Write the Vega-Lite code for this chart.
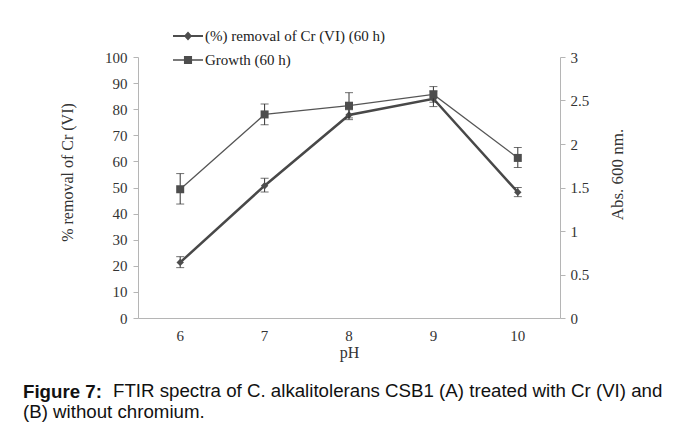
{
  "$schema": "https://vega.github.io/schema/vega-lite/v6.json",
  "padding": {"left": 23, "top": 20, "right": 5, "bottom": 5},
  "background": "white",
  "title": {
    "text": "FTIR spectra of C. alkalitolerans CSB1 (A) treated with Cr (VI) and",
    "orient": "bottom", "anchor": "start", "frame": "group",
    "font": "Liberation Sans", "fontSize": 18.7, "fontWeight": "normal", "color": "#111",
    "dx": -25, "dy": -39, "offset": 0
  },
  "config": {
    "view": {"stroke": null},
    "axis": {
      "labelFont": "Liberation Serif", "labelFontSize": 15, "labelColor": "#333",
      "titleFont": "Liberation Serif", "titleFontSize": 16, "titleFontWeight": "normal", "titleColor": "#333",
      "domainColor": "#b5b5b5", "tickColor": "#b5b5b5", "grid": false
    }
  },
  "datasets": {
    "pts": [
      {"pH": "6", "series": "(%) removal of Cr (VI) (60 h)", "removal": 21.3, "rlo": 19.3, "rhi": 23.5},
      {"pH": "7", "series": "(%) removal of Cr (VI) (60 h)", "removal": 50.7, "rlo": 48.3, "rhi": 53.5},
      {"pH": "8", "series": "(%) removal of Cr (VI) (60 h)", "removal": 77.8, "rlo": 76.0, "rhi": 79.8},
      {"pH": "9", "series": "(%) removal of Cr (VI) (60 h)", "removal": 84.0, "rlo": 81.0, "rhi": 87.0},
      {"pH": "10", "series": "(%) removal of Cr (VI) (60 h)", "removal": 48.2, "rlo": 46.5, "rhi": 50.0},
      {"pH": "6", "series": "Growth (60 h)", "abs": 1.48, "alo": 1.31, "ahi": 1.66},
      {"pH": "7", "series": "Growth (60 h)", "abs": 2.34, "alo": 2.22, "ahi": 2.46},
      {"pH": "8", "series": "Growth (60 h)", "abs": 2.44, "alo": 2.30, "ahi": 2.59},
      {"pH": "9", "series": "Growth (60 h)", "abs": 2.57, "alo": 2.48, "ahi": 2.66},
      {"pH": "10", "series": "Growth (60 h)", "abs": 1.84, "alo": 1.73, "ahi": 1.96}
    ]
  },
  "vconcat": [
    {
      "width": 422,
      "height": 261,
      "title": {
        "text": "Figure 7:",
        "subtitle": "(B) without chromium.",
        "orient": "bottom", "anchor": "start", "frame": "group",
        "font": "Liberation Sans", "fontSize": 18.7, "fontWeight": "bold", "color": "#111",
        "subtitleFont": "Liberation Sans", "subtitleFontSize": 18.7, "subtitleColor": "#111", "subtitlePadding": 1,
        "dx": -115, "offset": 23
      },
      "data": {"name": "pts"},
      "encoding": {
        "x": {
          "field": "pH", "type": "ordinal", "sort": ["6", "7", "8", "9", "10"],
          "scale": {"paddingInner": 0, "paddingOuter": 0},
          "axis": {"labelAngle": 0, "ticks": false, "labelPadding": 10, "title": "pH", "titlePadding": 1}
        }
      },
      "layer": [
        {
          "transform": [{"filter": "datum.series === '(%) removal of Cr (VI) (60 h)'"}],
          "encoding": {
            "y": {
              "field": "removal", "type": "quantitative",
              "scale": {"domain": [0, 100]},
              "axis": {"title": "% removal of Cr (VI)", "values": [0, 10, 20, 30, 40, 50, 60, 70, 80, 90, 100], "tickSize": 5, "labelPadding": 6, "titlePadding": 29, "titleY": 115}
            }
          },
          "layer": [
            {"mark": {"type": "line", "color": "#484848", "strokeWidth": 2.5}},
            {"mark": {"type": "rule", "color": "#333", "strokeWidth": 1}, "encoding": {"y": {"field": "rlo", "type": "quantitative"}, "y2": {"field": "rhi"}}},
            {"mark": {"type": "tick", "color": "#333", "thickness": 1, "size": 8}, "encoding": {"y": {"field": "rlo", "type": "quantitative"}}},
            {"mark": {"type": "tick", "color": "#333", "thickness": 1, "size": 8}, "encoding": {"y": {"field": "rhi", "type": "quantitative"}}},
            {"mark": {"type": "point", "shape": "diamond", "filled": true, "opacity": 1, "color": "#4d4d4d", "size": 55}},
            {
              "mark": {"type": "point", "filled": true, "opacity": 0, "color": "#4d4d4d", "size": 900},
              "encoding": {
                "shape": {
                  "field": "series", "type": "nominal",
                  "scale": {
                    "domain": ["(%) removal of Cr (VI) (60 h)", "Growth (60 h)"],
                    "range": ["M-1,-0.06H1V0.06H-1ZM-0.27,0L0,-0.3L0.27,0L0,0.3Z", "M-1,-0.05H1V0.05H-1ZM-0.27,-0.27H0.27V0.27H-0.27Z"]
                  },
                  "legend": {
                    "title": null, "orient": "none", "legendX": 34, "legendY": -37,
                    "labelFont": "Liberation Serif", "labelFontSize": 15, "labelColor": "#222", "labelLimit": 400,
                    "symbolSize": 900, "labelOffset": 1, "rowPadding": -3,
                    "symbolOpacity": 1, "symbolFillColor": "#4d4d4d",
                    "encode": {
                      "symbols": {
                        "update": {
                          "fill": {"value": "#4d4d4d"},
                          "opacity": {"value": 1}
                        }
                      }
                    }
                  }
                }
              }
            }
          ]
        },
        {
          "transform": [{"filter": "datum.series === 'Growth (60 h)'"}],
          "encoding": {
            "y": {
              "field": "abs", "type": "quantitative",
              "scale": {"domain": [0, 3]},
              "axis": {"title": "Abs. 600 nm.", "orient": "right", "format": "~g", "values": [0, 0.5, 1, 1.5, 2, 2.5, 3], "tickSize": 5, "labelPadding": 5, "titlePadding": 38, "titleAngle": 270, "titleY": 117, "titleFontSize": 17}
            }
          },
          "layer": [
            {"mark": {"type": "line", "color": "#555", "strokeWidth": 1.3}},
            {"mark": {"type": "rule", "color": "#333", "strokeWidth": 1}, "encoding": {"y": {"field": "alo", "type": "quantitative"}, "y2": {"field": "ahi"}}},
            {"mark": {"type": "tick", "color": "#333", "thickness": 1, "size": 8}, "encoding": {"y": {"field": "alo", "type": "quantitative"}}},
            {"mark": {"type": "tick", "color": "#333", "thickness": 1, "size": 8}, "encoding": {"y": {"field": "ahi", "type": "quantitative"}}},
            {"mark": {"type": "point", "shape": "square", "filled": true, "opacity": 1, "color": "#4d4d4d", "size": 64}}
          ]
        }
      ],
      "resolve": {"scale": {"y": "independent"}}
    }
  ]
}
